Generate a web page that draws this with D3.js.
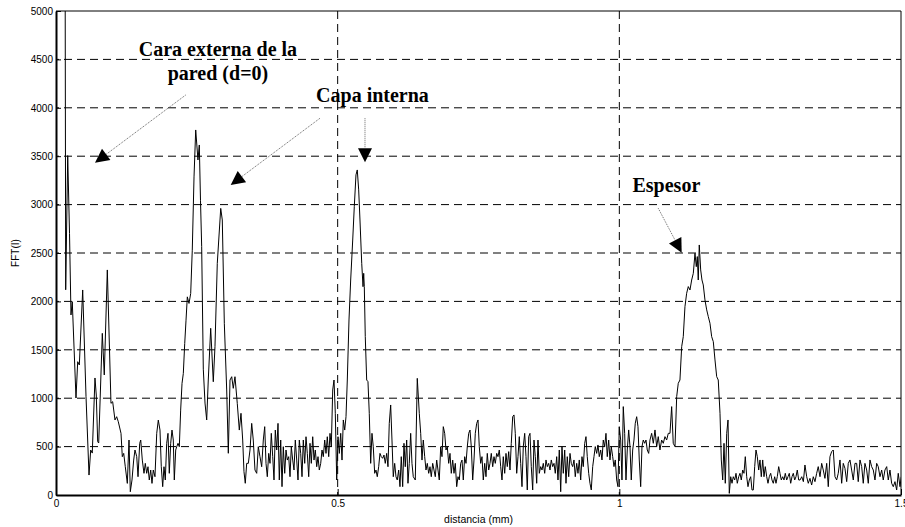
<!DOCTYPE html>
<html>
<head>
<meta charset="utf-8">
<script src="https://cdn.jsdelivr.net/npm/d3@7"></script>
<style>
  html, body { margin: 0; padding: 0; background: #fff; }
  svg { display: block; }
</style>
</head>
<body>
<svg id="chart" width="905" height="527"></svg>
<script>
// ---------------- data ----------------
const distancia = [
0.0155,0.0172,0.0208,0.0240,0.0266,0.0289,0.0355,0.0385,0.0414,0.0474,0.0533,0.0586,0.0616,0.0644,0.0692,0.0715,0.0740,0.0758,0.0822,0.0857,
0.0911,0.0976,0.1006,0.1047,0.1077,0.1106,0.1154,0.1177,0.1202,0.1230,0.1266,0.1296,0.1319,0.1349,0.1379,0.1402,0.1433,0.1456,0.1486,0.1504,
0.1532,0.1562,0.1585,0.1610,0.1633,0.1656,0.1681,0.1704,0.1727,0.1757,0.1788,0.1816,0.1846,0.1869,0.1894,0.1917,0.1940,0.1965,0.1988,0.2011,
0.2036,0.2059,0.2082,0.2100,0.2125,0.2143,0.2166,0.2189,0.2213,0.2237,0.2260,0.2285,0.2308,0.2331,0.2361,0.2391,0.2419,0.2450,0.2480,0.2520,
0.2544,0.2565,0.2586,0.2615,0.2645,0.2675,0.2703,0.2746,0.2792,0.2822,0.2863,0.2924,0.2952,0.2988,0.3030,0.3059,0.3089,0.3119,0.3147,0.3177,
0.3218,0.3254,0.3284,0.3314,0.3337,0.3360,0.3385,0.3414,0.3444,0.3474,0.3502,0.3532,0.3563,0.3591,0.3621,0.3651,0.3680,0.3705,0.3728,0.3751,
0.3776,0.3799,0.3822,0.3847,0.3870,0.3893,0.3918,0.3941,0.3964,0.3989,0.4012,0.4035,0.4060,0.4083,0.4106,0.4131,0.4154,0.4177,0.4202,0.4225,
0.4248,0.4273,0.4296,0.4319,0.4344,0.4367,0.4390,0.4415,0.4438,0.4461,0.4486,0.4509,0.4532,0.4557,0.4580,0.4603,0.4628,0.4651,0.4674,0.4699,
0.4722,0.4745,0.4770,0.4793,0.4816,0.4841,0.4864,0.4887,0.4912,0.4935,0.4958,0.4983,0.5006,0.5029,0.5054,0.5077,0.5100,0.5125,0.5148,0.5171,
0.5201,0.5231,0.5267,0.5295,0.5325,0.5348,0.5373,0.5396,0.5427,0.5450,0.5462,0.5473,0.5490,0.5515,0.5538,0.5561,0.5586,0.5609,0.5632,0.5657,
0.5680,0.5703,0.5728,0.5751,0.5774,0.5799,0.5822,0.5845,0.5870,0.5893,0.5916,0.5941,0.5964,0.5987,0.6012,0.6035,0.6058,0.6083,0.6106,0.6129,
0.6154,0.6177,0.6200,0.6225,0.6248,0.6271,0.6296,0.6319,0.6342,0.6378,0.6413,0.6449,0.6474,0.6497,0.6520,0.6545,0.6568,0.6591,0.6616,0.6639,
0.6662,0.6687,0.6710,0.6733,0.6758,0.6781,0.6804,0.6829,0.6852,0.6875,0.6900,0.6923,0.6946,0.6971,0.6994,0.7017,0.7042,0.7065,0.7088,0.7113,
0.7136,0.7159,0.7184,0.7207,0.7230,0.7255,0.7278,0.7301,0.7326,0.7349,0.7372,0.7397,0.7420,0.7443,0.7468,0.7491,0.7514,0.7539,0.7562,0.7585,
0.7610,0.7633,0.7656,0.7681,0.7704,0.7727,0.7752,0.7775,0.7798,0.7823,0.7846,0.7869,0.7894,0.7917,0.7940,0.7965,0.7988,0.8011,0.8036,0.8059,
0.8082,0.8107,0.8130,0.8153,0.8178,0.8201,0.8224,0.8249,0.8272,0.8295,0.8320,0.8343,0.8366,0.8391,0.8414,0.8437,0.8462,0.8485,0.8508,0.8533,
0.8556,0.8579,0.8604,0.8627,0.8650,0.8675,0.8698,0.8721,0.8746,0.8769,0.8792,0.8817,0.8840,0.8863,0.8888,0.8911,0.8934,0.8959,0.8982,0.9005,
0.9030,0.9053,0.9076,0.9101,0.9124,0.9147,0.9172,0.9195,0.9218,0.9243,0.9266,0.9289,0.9314,0.9337,0.9360,0.9385,0.9408,0.9431,0.9456,0.9479,
0.9502,0.9527,0.9550,0.9573,0.9598,0.9621,0.9644,0.9669,0.9692,0.9715,0.9740,0.9763,0.9786,0.9811,0.9834,0.9857,0.9882,0.9905,0.9928,0.9953,
0.9976,0.9999,1.0024,1.0047,1.0070,1.0095,1.0118,1.0141,1.0166,1.0189,1.0212,1.0237,1.0260,1.0283,1.0308,1.0331,1.0354,1.0379,1.0402,1.0425,
1.0450,1.0473,1.0496,1.0521,1.0544,1.0574,1.0603,1.0633,1.0663,1.0691,1.0721,1.0751,1.0780,1.0810,1.0840,1.0869,1.0899,1.0929,1.0957,1.0988,
1.1018,1.1046,1.1076,1.1107,1.1135,1.1165,1.1195,1.1224,1.1254,1.1284,1.1313,1.1343,1.1366,1.1384,1.1401,1.1419,1.1444,1.1467,1.1490,1.1520,
1.1551,1.1579,1.1609,1.1639,1.1668,1.1698,1.1728,1.1756,1.1787,1.1810,1.1835,1.1858,1.1881,1.1906,1.1929,1.1952,1.1977,1.2000,1.2023,1.2048,
1.2071,1.2094,1.2119,1.2142,1.2165,1.2190,1.2213,1.2236,1.2261,1.2284,1.2307,1.2332,1.2355,1.2378,1.2403,1.2426,1.2449,1.2474,1.2497,1.2520,
1.2545,1.2568,1.2591,1.2616,1.2639,1.2662,1.2687,1.2710,1.2733,1.2758,1.2781,1.2804,1.2829,1.2852,1.2875,1.2900,1.2923,1.2946,1.2971,1.2994,
1.3017,1.3042,1.3065,1.3088,1.3113,1.3136,1.3159,1.3184,1.3208,1.3238,1.3267,1.3295,1.3326,1.3354,1.3384,1.3414,1.3443,1.3473,1.3503,1.3531,
1.3562,1.3592,1.3620,1.3650,1.3681,1.3709,1.3739,1.3769,1.3798,1.3828,1.3858,1.3886,1.3917,1.3947,1.3975,1.4005,1.4036,1.4064,1.4094,1.4124,
1.4153,1.4183,1.4213,1.4241,1.4272,1.4302,1.4330,1.4360,1.4391,1.4419,1.4449,1.4479,1.4508,1.4538,1.4568,1.4596,1.4627,1.4657,1.4685,1.4715,
1.4746,1.4774,1.4804,1.4834,1.4863,1.4893,1.4923,1.4951,1.4982,1.5005
];
const fft = [
8000,2120,3506,2700,1860,1997,1002,1377,1343,2118,1016,206,465,433,1209,1033,551,537,1670,1240,
2325,947,964,775,809,757,637,396,430,292,120,568,34,155,361,465,396,189,534,568,
361,224,327,224,292,155,258,120,258,189,637,774,671,292,86,292,155,534,637,224,
534,671,568,155,465,499,534,499,877,1153,1256,1566,1806,2047,1979,2082,2529,3286,3771,3461,
3616,3045,2565,1300,950,775,1188,1722,1170,1532,2393,2961,2841,1774,1085,431,1188,1222,1102,1222,
947,671,844,568,241,121,327,327,465,740,568,258,224,499,396,292,568,706,327,189,
430,327,637,396,155,671,465,740,155,568,86,499,224,465,361,396,189,499,361,258,
568,361,155,568,430,189,568,327,602,430,189,534,327,602,361,465,292,396,258,327,
465,396,568,430,602,396,637,499,1085,1188,844,155,602,430,637,361,775,671,809,1188,
1808,2221,2634,2979,3307,3358,3152,2841,2393,2152,2290,2152,1636,1188,1171,844,327,637,499,224,
258,189,292,430,396,379,413,327,430,292,740,930,568,189,327,189,155,258,86,396,
86,534,292,568,121,327,637,327,189,155,1205,844,637,361,568,396,258,327,224,292,
189,327,258,189,361,258,155,499,396,706,637,465,499,327,430,224,361,224,327,86,
189,155,327,361,155,396,327,499,637,671,499,155,361,637,740,775,499,327,396,155,
327,189,430,258,327,430,292,396,327,430,396,465,293,155,396,224,430,293,448,258,
534,809,827,637,224,396,603,327,86,500,637,396,52,603,637,293,52,568,396,121,
568,224,293,258,327,224,362,293,327,258,362,293,327,224,396,155,465,34,500,224,
465,121,396,189,430,327,293,362,189,327,224,362,155,396,293,534,603,396,224,121,
52,293,396,500,430,517,396,465,362,568,500,637,396,568,362,500,396,293,362,155,
86,706,568,155,913,637,155,465,672,500,155,465,568,741,809,706,362,86,500,568,
534,568,465,430,568,637,534,672,500,603,465,568,534,603,568,637,637,913,534,500,
1016,1154,1188,1533,1636,1946,2084,2153,2118,2221,2290,2497,2359,2463,2221,2583,2325,2221,2170,2015,
1912,1843,1774,1636,1584,1395,1223,1188,844,362,155,534,121,637,775,17,189,121,189,155,
224,121,189,224,155,258,224,396,189,86,155,189,52,52,293,465,396,258,362,189,
362,189,293,189,121,189,224,155,121,189,121,189,293,224,155,189,155,224,155,189,
224,121,189,224,155,189,258,155,155,189,138,310,189,121,172,103,189,138,224,293,
189,327,258,172,327,86,396,448,465,189,155,224,362,121,327,276,138,327,362,258,
155,327,327,138,362,293,121,327,258,121,362,293,258,155,327,293,189,258,155,258,
293,155,258,121,86,138,52,224,86,189
];

const xTicks = [0, 0.5, 1, 1.5];
const xTickLabels = ["0", "0.5", "1", "1.5"];
const yTicks = [0, 500, 1000, 1500, 2000, 2500, 3000, 3500, 4000, 4500, 5000];
const xGrid = [0.5, 1];
const yGrid = [500, 1000, 1500, 2000, 2500, 3000, 3500, 4000, 4500];
const xLabel = "distancia (mm)";
const yLabel = "FFT(I)";

// annotation texts (anchor in data coords: distancia, FFT)
const noteTexts = ["Cara externa de la", "pared (d=0)", "Capa interna", "Espesor"];
const noteX = [0.2875, 0.2875, 0.5618, 1.0835];
const noteY = [4535, 4287, 4063, 3133];
// arrows: start -> tip (data coords)
const arrowX0 = [0.2302, 0.4686, 0.5485, 1.0691];
const arrowY0 = [4132, 3892, 3892, 2962];
const arrowX1 = [0.0692, 0.3101, 0.5485, 1.1107];
const arrowY1 = [3433, 3203, 3437, 2503];

// ---------------- chart ----------------
const W = 905, H = 527;
const margin = {top: 11, right: 4, bottom: 32, left: 56};
const svg = d3.select("#chart");
const x = d3.scaleLinear().domain([0, 1.5]).range([margin.left, W - margin.right]);
const y = d3.scaleLinear().domain([0, 5000]).range([H - margin.bottom, margin.top]);
const x0 = x.range()[0], x1 = x.range()[1], yTop = y.range()[1], yBot = y.range()[0];

svg.append("rect").attr("width", W).attr("height", H).attr("fill", "#fff");

svg.append("defs").append("clipPath").attr("id", "plotclip")
  .append("rect").attr("x", x0).attr("y", yTop).attr("width", x1 - x0).attr("height", yBot - yTop);

// grid
const grid = svg.append("g").attr("stroke", "#000").attr("stroke-width", 1)
  .attr("stroke-dasharray", "8,5").attr("fill", "none");
grid.selectAll("line.h").data(yGrid).join("line").attr("class", "h")
  .attr("x1", x0 + 1).attr("x2", x1).attr("y1", d => y(d)).attr("y2", d => y(d))
  .attr("stroke-dashoffset", -7);
grid.selectAll("line.v").data(xGrid).join("line").attr("class", "v")
  .attr("x1", d => x(d)).attr("x2", d => x(d)).attr("y1", yTop).attr("y2", yBot);

// signal
const pts = distancia.map((d, i) => [d, fft[i]]);
svg.append("path").datum(pts)
  .attr("clip-path", "url(#plotclip)")
  .attr("fill", "none").attr("stroke", "#000").attr("stroke-width", 1)
  .attr("stroke-linejoin", "miter")
  .attr("d", d3.line().x(d => x(d[0])).y(d => y(d[1])));

// box top/right
svg.append("line").attr("x1", x0).attr("x2", x1).attr("y1", yTop).attr("y2", yTop)
  .attr("stroke", "#000").attr("stroke-width", 1);
svg.append("line").attr("x1", x1).attr("x2", x1).attr("y1", yTop).attr("y2", yBot)
  .attr("stroke", "#000").attr("stroke-width", 1);

// axes
const fontSans = "'Liberation Sans', Arial, Helvetica, sans-serif";
const xAxis = svg.append("g").attr("transform", `translate(0,${yBot})`)
  .call(d3.axisBottom(x).tickValues(xTicks).tickFormat((d, i) => xTickLabels[i])
    .tickSizeInner(-6).tickSizeOuter(0).tickPadding(5));
const yAxis = svg.append("g").attr("transform", `translate(${x0},0)`)
  .call(d3.axisLeft(y).tickValues(yTicks).tickFormat(d3.format("d"))
    .tickSizeInner(-5).tickSizeOuter(0).tickPadding(3));
[xAxis, yAxis].forEach(g => {
  g.select(".domain").attr("stroke", "#000").attr("stroke-width", 2);
  g.selectAll(".tick line").attr("stroke", "#000");
  g.selectAll(".tick text").attr("fill", "#000")
    .style("font-family", fontSans).style("font-size", "10px");
});

// axis labels
svg.append("text").attr("x", (x0 + x1) / 2).attr("y", 523)
  .attr("text-anchor", "middle").style("font-family", fontSans).style("font-size", "10.5px")
  .attr("fill", "#000").text(xLabel);
svg.append("text").attr("transform", `translate(19,${(yTop + yBot) / 2}) rotate(-90)`)
  .attr("text-anchor", "middle").style("font-family", fontSans).style("font-size", "10px")
  .attr("fill", "#000").text(yLabel);

// annotations
svg.append("g").selectAll("text").data(noteTexts).join("text")
  .attr("x", (d, i) => x(noteX[i])).attr("y", (d, i) => y(noteY[i]))
  .attr("text-anchor", "middle")
  .style("font-family", "'Liberation Serif', 'Times New Roman', serif")
  .style("font-weight", "bold").style("font-size", "20px")
  .attr("fill", "#000").text(d => d);

// arrows
const HL = 14, HW = 7;
const arrows = svg.append("g");
arrowX0.forEach((_, i) => {
  const sx = x(arrowX0[i]), sy = y(arrowY0[i]);
  const tx = x(arrowX1[i]), ty = y(arrowY1[i]);
  const dx = tx - sx, dy = ty - sy, len = Math.hypot(dx, dy);
  const ux = dx / len, uy = dy / len;
  const bx = tx - ux * HL, by = ty - uy * HL;
  arrows.append("line").attr("x1", sx).attr("y1", sy).attr("x2", bx).attr("y2", by)
    .attr("stroke", "#666").attr("stroke-width", 1).attr("stroke-dasharray", "1,1");
  arrows.append("polygon")
    .attr("points", [[tx, ty], [bx - uy * HW, by + ux * HW], [bx + uy * HW, by - ux * HW]].map(p => p.join(",")).join(" "))
    .attr("fill", "#000");
});
</script>
</body>
</html>
